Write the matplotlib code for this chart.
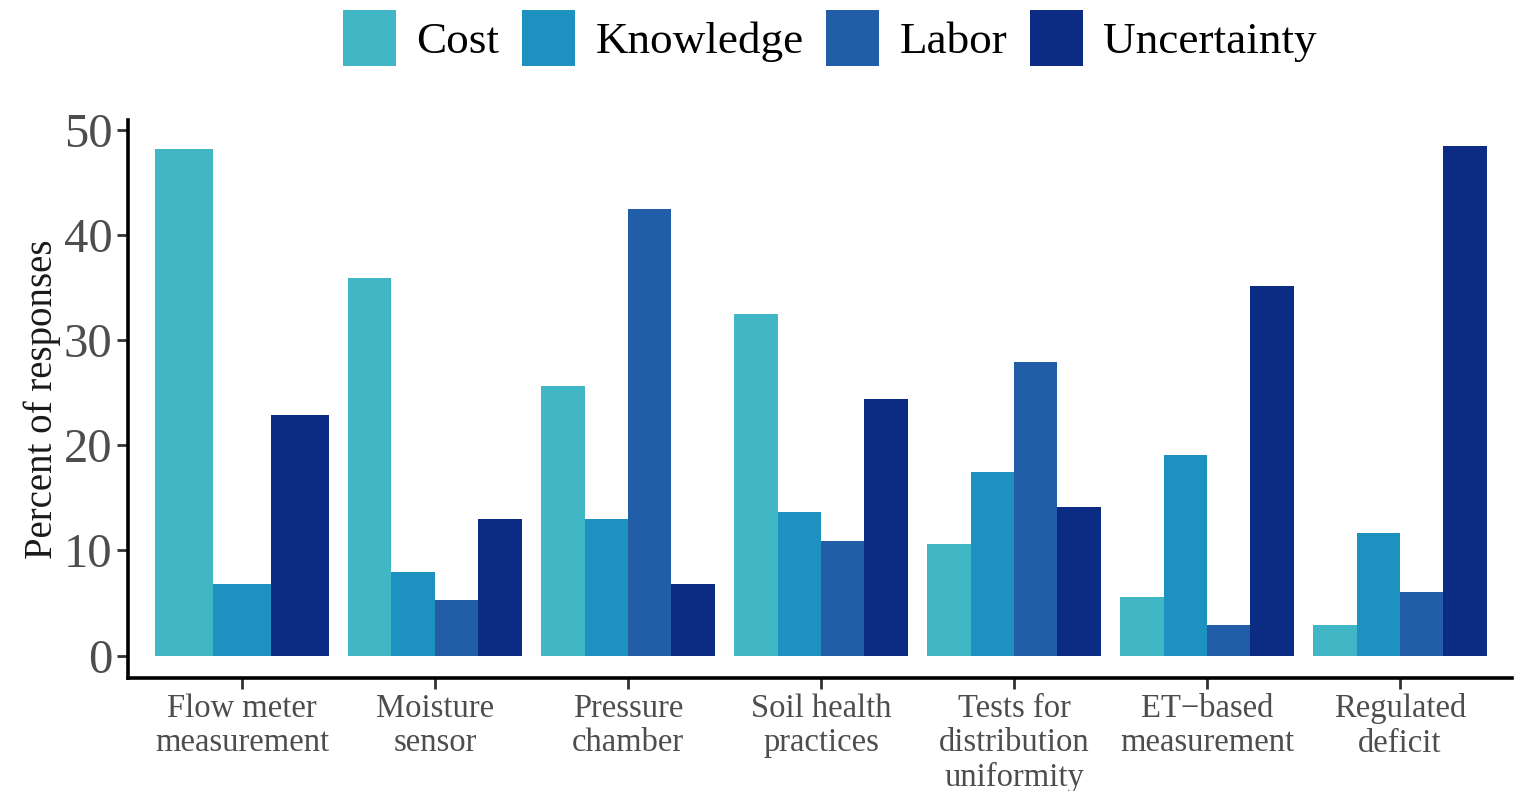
import matplotlib
matplotlib.use("Agg")
import matplotlib.pyplot as plt
from matplotlib.patches import Patch
import numpy as np

categories = ["Flow meter\nmeasurement", "Moisture\nsensor", "Pressure\nchamber",
              "Soil health\npractices", "Tests for\ndistribution\nuniformity",
              "ET\u2212based\nmeasurement", "Regulated\ndeficit"]
series = ["Cost", "Knowledge", "Labor", "Uncertainty"]
cost        = [48.2, 35.9, 25.6, 32.5, 10.6, 5.6, 2.9]
knowledge   = [6.8, 7.9, 13.0, 13.7, 17.5, 19.1, 11.7]
labor       = [None, 5.3, 42.5, 10.9, 27.9, 2.9, 6.0]
uncertainty = [22.9, 13.0, 6.8, 24.4, 14.1, 35.2, 48.5]
colors = ["#41b6c4", "#1d91c0", "#225ea8", "#0c2c84"]
yticks = [0, 10, 20, 30, 40, 50]

values = [cost, knowledge, labor, uncertainty]

plt.rcParams['font.family'] = ['Liberation Serif', 'DejaVu Serif']

fig = plt.figure(figsize=(15.17, 7.91), dpi=100)
ax = fig.add_axes([128/1517, 1-678/791, (1512-128)/1517, (678-120)/791])

group_w = 0.9
for i in range(len(categories)):
    present = [s for s in range(len(series)) if values[s][i] is not None]
    n = len(present)
    w = group_w / n
    for k, s in enumerate(present):
        x = (i + 1) - group_w/2 + w*(k + 0.5)
        ax.bar(x, values[s][i], width=w, color=colors[s], linewidth=0)

ax.set_xlim(0.41, 7.58)
ax.set_ylim(-2.14, 50.95)
ax.set_xticks(range(1, len(categories)+1))
ax.set_xticklabels(categories, fontsize=23.5, color="#4D4D4D", linespacing=1.17)
ax.set_yticks(yticks)
ax.set_yticklabels([str(t) for t in yticks], fontsize=35, color="#4D4D4D")
ax.set_ylabel("Percent of responses", fontsize=28, color="#1a1a1a", labelpad=2)

for sp in ["top", "right"]:
    ax.spines[sp].set_visible(False)
for sp in ["left", "bottom"]:
    ax.spines[sp].set_linewidth(2.6)
    ax.spines[sp].set_color("black")
ax.tick_params(axis="both", length=8, width=2, color="#333333")
ax.tick_params(axis="y", pad=3)
ax.tick_params(axis="x", pad=3)

handles = [Patch(facecolor=c, edgecolor="none", label=s) for c, s in zip(colors, series)]
fig.legend(handles=handles, loc="center", bbox_to_anchor=(830/1517, 1-38/791), ncol=4,
           frameon=False, fontsize=32.5, handlelength=1.175, handleheight=1.565,
           handletextpad=0.45, columnspacing=0.5, borderpad=0)

fig.savefig("out.png", dpi=100)
